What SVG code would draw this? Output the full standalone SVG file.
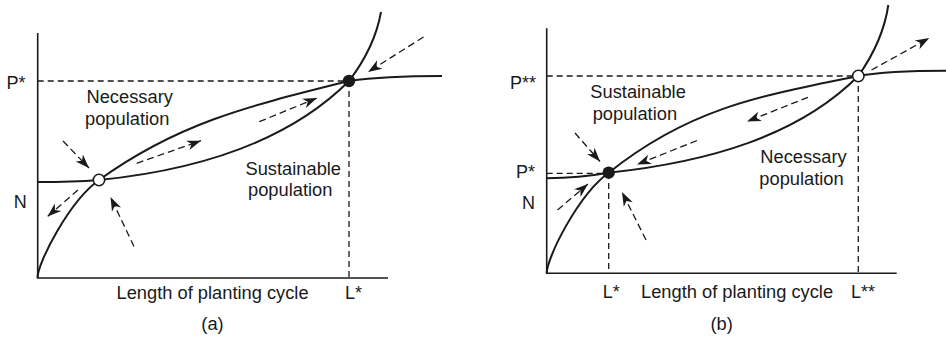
<svg xmlns="http://www.w3.org/2000/svg" width="946" height="337" viewBox="0 0 946 337">
<style>
.axis{fill:none;stroke:#1a1a1a;stroke-width:1.6}
.curve{fill:none;stroke:#1a1a1a;stroke-width:2}
.guide{fill:none;stroke:#1a1a1a;stroke-width:1.3;stroke-dasharray:6 4}
.arr{fill:none;stroke:#1a1a1a;stroke-width:1.3;stroke-dasharray:7 4;marker-end:url(#ah)}
.lbl{font-family:"Liberation Sans",Arial,Helvetica,sans-serif;font-size:18.3px;fill:#1a1a1a}
.ax{font-family:"Liberation Sans",Arial,Helvetica,sans-serif;font-size:18px;fill:#1a1a1a}
.open{fill:#fff;stroke:#1a1a1a;stroke-width:1.6}
.solid{fill:#1a1a1a}
</style>
<defs>
<marker id="ah" viewBox="-15 -6 16 12" refX="0" refY="0" markerWidth="16" markerHeight="12" markerUnits="userSpaceOnUse" orient="auto">
<path d="M0,0 L-14,-5 L-10,0 L-14,5 Z" fill="#1a1a1a"/>
</marker>
</defs>

<g id="panel-a">
<g id="axes-a">
<path class="axis" d="M37.7,33 V278 H388"/>
</g>
<g id="guides-a">
<path class="guide" d="M37.7,81 H349"/>
<path class="guide" d="M349,81 V278"/>
</g>
<g id="curve-a-concave">
<path class="curve" d="M37.5,278 C37.5,263 69,201.6 99,180 C179,122.4 249,106 349,81 C370,78 400,76 442,76"/>
</g>
<g id="curve-a-convex">
<path class="curve" d="M37.7,182 C60,182 80,181.5 99,180 C199,170 289,141 349,81 C362,64 376,40 381,12"/>
</g>
<g id="connectors-a">
<path class="arr" d="M63,141 L89,168"/>
<path class="arr" d="M78,190 L47.5,216.5"/>
<path class="arr" d="M134,246.5 L110.5,197"/>
<path class="arr" d="M136.7,163.3 L201,140.7"/>
<path class="arr" d="M259.3,121.7 L317,98"/>
<path class="arr" d="M423.5,37 L368,72"/>
</g>
<g id="node-a-unstable"><circle class="open" cx="99" cy="180" r="5.7"/></g>
<g id="node-a-stable"><circle class="solid" cx="349" cy="81" r="6.2"/></g>
<g id="labels-a">
<text class="ax" x="25.5" y="88.5" text-anchor="end">P*</text>
<text class="ax" x="26.7" y="208" text-anchor="end">N</text>
<text class="lbl" x="86.5" y="103.3">Necessary</text>
<text class="lbl" x="85" y="124.5">population</text>
<text class="lbl" x="245.5" y="175">Sustainable</text>
<text class="lbl" x="248" y="196">population</text>
<text class="lbl" x="116.5" y="299">Length of planting cycle</text>
<text class="ax" x="345" y="299">L*</text>
<text class="lbl" x="212.5" y="330" text-anchor="middle">(a)</text>
</g>
</g>

<g id="panel-b">
<g id="axes-b">
<path class="axis" d="M546.7,28.3 V273.3 H896.7"/>
</g>
<g id="guides-b">
<path class="guide" d="M546.7,76 H858.3"/>
<path class="guide" d="M858.3,76 V273.3"/>
<path class="guide" d="M546.7,173.3 H608.7"/>
<path class="guide" d="M608.7,173 V273.3"/>
</g>
<g id="curve-b-concave">
<path class="curve" d="M546.7,273.3 C546.7,258 578,195 608.7,172.7 C688.7,108.7 758.3,96 858.3,76 C880,72 910,70.7 946,70.7"/>
</g>
<g id="curve-b-convex">
<path class="curve" d="M546.7,178.3 C570,178 590,176 608.7,172.7 C708.7,162 798.3,136 858.3,76 C871,58 884,35 888.3,5"/>
</g>
<g id="connectors-b">
<path class="arr" d="M575,133 L600,161.5"/>
<path class="arr" d="M557.5,210 L588,184"/>
<path class="arr" d="M646,240 L622,192"/>
<path class="arr" d="M697,140.5 L637,164.5"/>
<path class="arr" d="M808,97.3 L747,121.5"/>
<path class="arr" d="M871.5,70 L929.3,38"/>
</g>
<g id="node-b-stable"><circle class="solid" cx="608.7" cy="172.7" r="6.2"/></g>
<g id="node-b-unstable"><circle class="open" cx="858.3" cy="76" r="5.7"/></g>
<g id="labels-b">
<text class="ax" x="536" y="89" text-anchor="end">P**</text>
<text class="ax" x="535" y="178" text-anchor="end">P*</text>
<text class="ax" x="535" y="208.5" text-anchor="end">N</text>
<text class="lbl" x="590.3" y="98">Sustainable</text>
<text class="lbl" x="592.7" y="119.5">population</text>
<text class="lbl" x="760.3" y="163">Necessary</text>
<text class="lbl" x="759.3" y="184.5">population</text>
<text class="ax" x="602.7" y="298">L*</text>
<text class="lbl" x="641" y="298">Length of planting cycle</text>
<text class="ax" x="851" y="298">L**</text>
<text class="lbl" x="721.7" y="330" text-anchor="middle">(b)</text>
</g>
</g>
</svg>
